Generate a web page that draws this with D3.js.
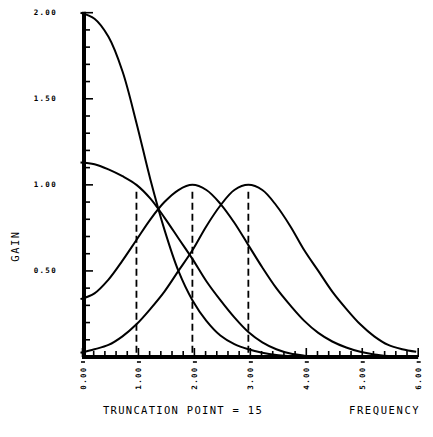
<!DOCTYPE html>
<html>
<head>
<meta charset="utf-8">
<script src="https://cdn.jsdelivr.net/npm/d3@7"></script>
<style>
  html, body { margin: 0; padding: 0; background: #fff; }
  svg { display: block; }
  text { font-family: "DejaVu Sans Mono", monospace; fill: #000; }
</style>
</head>
<body>
<svg id="chart" width="433" height="437"></svg>
<script>
  'use strict';

  // frequency grid the curves were read at
  var freq = [0, 0.25, 0.5, 0.75, 1, 1.25, 1.5, 1.75, 2, 2.25, 2.5, 2.75, 3,
    3.25, 3.5, 3.75, 4, 4.25, 4.5, 4.75, 5, 5.25, 5.5, 5.75, 6];

  // gain values
  var gainPeak0 = [2.00, 1.965, 1.86, 1.66, 1.36, 1.03, 0.74, 0.50, 0.33, 0.21, 0.125, 0.075, 0.045,
    0.025, 0.012, 0.005, 0, 0, 0, 0, 0, 0, 0, 0, 0];
  var gainShoulder0 = [1.13, 1.12, 1.09, 1.05, 1.00, 0.92, 0.81, 0.69, 0.57, 0.44, 0.33, 0.23, 0.145,
    0.085, 0.045, 0.02, 0.008, 0, 0, 0, 0, 0, 0, 0, 0];
  var gainPeak2 = [0.336, 0.37, 0.45, 0.56, 0.68, 0.80, 0.90, 0.97, 1.00, 0.97, 0.89, 0.78, 0.65,
    0.52, 0.40, 0.30, 0.21, 0.14, 0.09, 0.055, 0.03, 0.015, 0.006, 0, 0];
  var gainPeak3 = [0.025, 0.045, 0.07, 0.12, 0.19, 0.28, 0.38, 0.50, 0.62, 0.76, 0.88, 0.97, 1.00,
    0.97, 0.88, 0.76, 0.62, 0.50, 0.38, 0.28, 0.19, 0.12, 0.07, 0.045, 0.03];

  var series = [gainPeak0, gainShoulder0, gainPeak2, gainPeak3];

  // dashed markers
  var markerFreq = [1, 2, 3];
  var markerTop = 0.96;

  var xTickLabels = ['0.00', '1.00', '2.00', '3.00', '4.00', '5.00', '6.00'];
  var yTickLabels = ['0.50', '1.00', '1.50', '2.00'];
  var yTickValues = [0.5, 1.0, 1.5, 2.0];

  var xTitle = 'FREQUENCY';
  var yTitle = 'GAIN';
  var caption = 'TRUNCATION POINT = 15';

  var svg = d3.select('#chart'),
    x = d3.scaleLinear().domain([0, 6]).range([80.5, 416.2]),
    y = d3.scaleLinear().domain([0, 2]).range([357, 12.7]);

  svg.append('rect')
    .attr('width', 433)
    .attr('height', 437)
    .attr('fill', '#fff');

  // curves
  var line = d3.line()
    .x(function (d) { return x(d[0]); })
    .y(function (d) { return Math.min(y(d[1]), y(0)); })
    .curve(d3.curveCatmullRom.alpha(0.5));

  svg.append('g')
    .selectAll('path')
    .data(series)
    .enter()
    .append('path')
    .attr('fill', 'none')
    .attr('stroke', '#000')
    .attr('stroke-width', 2)
    .attr('d', function (vals) {
      return line(freq.map(function (f, i) { return [f, vals[i]]; }));
    });

  // dashed verticals
  svg.append('g')
    .selectAll('line')
    .data(markerFreq)
    .enter()
    .append('line')
    .attr('x1', function (d) { return x(d); })
    .attr('x2', function (d) { return x(d); })
    .attr('y1', y(markerTop))
    .attr('y2', y(0))
    .attr('stroke', '#000')
    .attr('stroke-width', 1.8)
    .attr('stroke-dasharray', '7,4');

  // x axis: minor ticks every 0.2, major at integers
  var xMinor = d3.range(0, 31).map(function (i) { return i * 0.2; });
  svg.append('g')
    .selectAll('line')
    .data(xMinor)
    .enter()
    .append('line')
    .attr('x1', function (d) { return x(d) + 2; })
    .attr('x2', function (d) { return x(d) + 2; })
    .attr('y1', y(0))
    .attr('y2', function (d, i) { return y(0) - (i % 5 === 0 ? 9 : 6); })
    .attr('stroke', '#000')
    .attr('stroke-width', 1.6);

  svg.append('line')
    .attr('x1', 82)
    .attr('x2', x(6) + 2)
    .attr('y1', y(0))
    .attr('y2', y(0))
    .attr('stroke', '#000')
    .attr('stroke-width', 4);

  // little marks under the axis at label positions
  svg.append('g')
    .selectAll('line')
    .data(d3.range(0, 7))
    .enter()
    .append('line')
    .attr('x1', function (d) { return x(d) + 0.5; })
    .attr('x2', function (d) { return x(d) + 4.5; })
    .attr('y1', y(0) + 5)
    .attr('y2', y(0) + 5)
    .attr('stroke', '#000')
    .attr('stroke-width', 1.6);

  // y axis: minor ticks every 0.1, major every 0.5
  var yMinor = d3.range(0, 21).map(function (i) { return i * 0.1; });
  svg.append('g')
    .selectAll('line')
    .data(yMinor)
    .enter()
    .append('line')
    .attr('x1', 84)
    .attr('x2', function (d, i) { return 84 + (i % 5 === 0 ? 9 : 6); })
    .attr('y1', function (d) { return y(d); })
    .attr('y2', function (d) { return y(d); })
    .attr('stroke', '#000')
    .attr('stroke-width', 1.6);

  svg.append('line')
    .attr('x1', 84)
    .attr('x2', 84)
    .attr('y1', y(2) - 1)
    .attr('y2', y(0) + 2)
    .attr('stroke', '#000')
    .attr('stroke-width', 4);

  // tick labels
  svg.append('g')
    .selectAll('text')
    .data(yTickLabels)
    .enter()
    .append('text')
    .attr('x', 57)
    .attr('y', function (d, i) { return y(yTickValues[i]); })
    .attr('text-anchor', 'end')
    .attr('dominant-baseline', 'central')
    .attr('font-size', 7.5)
    .attr('font-weight', 'bold')
    .attr('letter-spacing', 1.3)
    .text(function (d) { return d; });

  svg.append('g')
    .selectAll('text')
    .data(xTickLabels)
    .enter()
    .append('text')
    .attr('transform', function (d, i) { return 'translate(' + (x(i) + 2.5) + ',378) rotate(-90)'; })
    .attr('text-anchor', 'middle')
    .attr('dominant-baseline', 'central')
    .attr('font-size', 7.5)
    .attr('font-weight', 'bold')
    .attr('letter-spacing', 1.3)
    .text(function (d) { return d; });

  // titles
  svg.append('text')
    .attr('transform', 'translate(15,246) rotate(-90)')
    .attr('text-anchor', 'middle')
    .attr('dominant-baseline', 'central')
    .attr('font-size', 10.5)
    .attr('letter-spacing', 1.5)
    .text(yTitle);

  svg.append('text')
    .attr('x', 103)
    .attr('y', 414)
    .attr('font-size', 10.5)
    .attr('letter-spacing', 1.3)
    .text(caption);

  svg.append('text')
    .attr('x', 349)
    .attr('y', 414)
    .attr('font-size', 10.5)
    .attr('letter-spacing', 1.6)
    .text(xTitle);
</script>
</body>
</html>
